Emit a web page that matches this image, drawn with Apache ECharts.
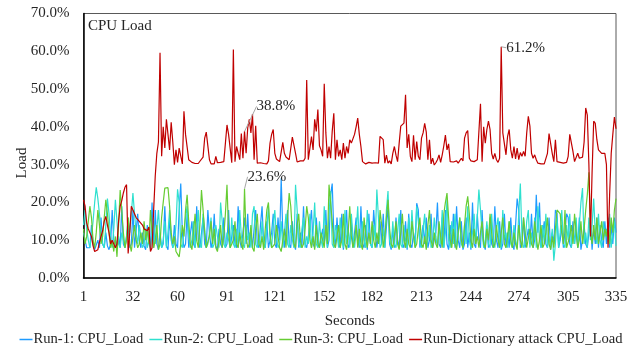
<!DOCTYPE html>
<html>
<head>
<meta charset="utf-8">
<script src="https://cdn.jsdelivr.net/npm/echarts@6/dist/echarts.min.js"></script>
<style>
  html, body { margin: 0; padding: 0; background: #ffffff; }
  #chart { width: 642px; height: 354px; }
</style>
</head>
<body>
<div id="chart"></div>
<script>
// Sampling seconds 1..335 and the ticks shown on the time axis
const tickLabels = [1, 32, 60, 91, 121, 152, 182, 213, 244, 274, 305, 335];
const seconds = Array.from({ length: 335 }, (_, i) => String(i + 1));

// CPU load (%) per second for each run
const run1 = [
  12, 10, 8, 7.5, 8, 14, 9, 7.5, 8, 10,
  8, 16, 9, 8, 12, 8.5, 7.5, 9, 18, 10,
  8, 7.5, 11, 8, 19, 9, 8, 7.5, 14, 8,
  9, 18, 8, 7.5, 17, 10, 8, 12, 8.5, 7.5,
  14, 9, 8, 20, 8, 18, 9, 7.5, 12, 8,
  9, 19, 8.5, 7.5, 16, 10, 8, 14, 9, 8,
  18, 25, 12, 8, 9, 17, 8, 7.5, 15, 9,
  8, 19, 10, 8, 7.5, 16, 9, 8, 18, 12,
  8, 10, 17, 8.5, 7.5, 13, 9, 8, 16, 8,
  9, 18, 8, 7.5, 14, 9, 8, 19, 10, 8,
  7.5, 16, 9, 17, 8, 12, 8, 7.5, 18, 9,
  8, 14, 19, 9, 8, 15, 8, 7.5, 12, 17,
  9, 8, 16, 10, 26.4, 12, 8, 7.5, 18, 9,
  8, 15, 9, 7.5, 17, 8, 12, 8, 19, 9,
  8, 7.5, 14, 18, 9, 8, 16, 10, 8, 7.5,
  13, 9, 18, 8, 10, 22, 25, 12, 8, 16,
  9, 8, 17, 7.5, 11, 18, 8, 9, 15, 8,
  7.5, 16, 10, 8, 19, 9, 8, 14, 7.5, 17,
  9, 8, 18, 12, 8, 7.5, 15, 9, 17, 8,
  8, 19, 9, 7.5, 13, 8, 16, 10, 8, 18,
  9, 8, 15, 7.5, 17, 9, 8, 12, 9, 19.8,
  18, 8, 7.5, 14, 9, 16, 8, 10, 17, 8,
  7.5, 12, 20, 9, 8, 16, 8, 18, 9, 7.5,
  14, 9, 17, 8, 19, 10, 8, 15, 7.5, 9,
  16, 8, 12, 7.5, 20, 9, 8, 17, 10, 8,
  18, 9, 7.5, 14, 8, 16, 9, 8, 19, 10,
  8, 15, 7.5, 9, 17, 8, 12, 8, 16, 9,
  7.5, 14, 21, 18, 8, 9, 16, 8, 7.5, 13,
  9, 17, 8, 10, 22, 12, 20, 8, 7.5, 15,
  9, 8, 16, 7.5, 12, 9, 18, 17, 8, 10,
  14, 8, 7.5, 17, 16, 9, 8, 15, 9, 13,
  8, 16, 7.5, 10, 14, 9, 8, 12, 15, 7.5,
  13, 9, 16, 8, 14, 10, 8, 15, 9, 16,
  8, 14, 9, 16, 12
];

const run2 = [
  14, 18, 13, 10, 8, 11, 15, 20, 24, 21,
  17, 12, 9, 8, 14, 21, 17, 11, 8, 13,
  20.7, 15, 9, 8, 12, 10, 8, 11, 16, 12,
  17, 22.5, 17, 12, 9, 14, 11, 8, 9, 13,
  8, 10, 7.5, 12, 15, 9, 13, 18, 11, 8,
  10, 15, 8, 12, 18, 11, 8, 9, 14, 23.5,
  20, 9, 8, 12, 16, 19, 11, 8, 10, 15,
  8, 12, 18, 9, 8, 17, 13, 8, 9, 12,
  16, 8, 9, 14, 11, 8, 20, 15, 9, 8,
  12, 10, 8, 16, 9, 8, 13, 8, 18, 11,
  9, 8, 14, 10, 12, 8, 17, 19, 9, 8,
  11, 8, 15, 9, 8, 13, 19, 10, 8, 14,
  18, 11, 8, 9, 15, 8, 12, 17, 9, 8,
  14, 10, 8, 24.7, 18, 9, 8, 13, 16, 8,
  11, 9, 17, 8, 12, 20, 9, 8, 15, 10,
  8, 19, 11, 8, 17, 23, 9, 8, 14, 12,
  8, 16, 10, 8, 18, 9, 13, 8, 17, 11,
  8, 12, 19, 9, 8, 15, 10, 8, 18, 12,
  9, 8, 14, 10, 23.4, 16, 8, 9, 13, 8,
  18, 23, 10, 8, 15, 9, 8, 12, 17, 9,
  8, 14, 10, 8, 16, 9, 18, 11, 8, 19,
  15, 9, 8, 13, 17, 8, 10, 14, 8, 9,
  16, 11, 8, 14, 9, 18, 8, 12, 21, 10,
  8, 15, 9, 17, 8, 11, 16, 9, 8, 14,
  9, 19, 10, 8, 12, 17, 9, 16, 23.4, 18,
  12, 8, 10, 15, 9, 8, 17, 10, 8, 13,
  16, 9, 8, 18, 10, 12, 8, 15, 9, 8,
  14, 10, 8, 17, 25, 11, 8, 9, 15, 18,
  8, 12, 9, 16, 8, 19, 10, 8, 14, 9,
  17, 8, 11, 8, 13, 4.6, 9, 16, 8, 12,
  18, 9, 8, 14, 10, 17, 8, 12, 9, 16,
  8, 14, 20, 23.8, 9, 12, 8, 16, 10, 14,
  21, 12, 9, 17, 10, 8, 15, 11, 13, 9,
  17, 8, 12, 15, 8.5
];

const run3 = [
  13, 9, 11, 15, 19, 16, 10, 8, 12, 18,
  14, 9, 11, 16, 20.7, 17, 12, 8, 10, 7,
  11, 5.6, 14, 23.3, 18, 12, 8, 10, 16, 9,
  7, 11, 14, 10, 8, 9, 12, 9, 15, 10,
  13, 9, 18, 12, 8, 10, 14, 7.5, 9, 16,
  20, 23.8, 23.5, 23.9, 19, 12, 9, 11, 7, 6.5,
  5.6, 9, 14, 11, 18, 22, 15, 9, 7.5, 12,
  17, 10, 8, 14, 23.3, 18, 12, 8, 7.5, 11,
  15, 9, 13, 8, 7, 10, 14, 8, 11, 17,
  24.7, 12, 8, 7.5, 10, 15, 9, 8, 12, 9,
  7.5, 23.6, 11, 8, 9, 14, 8, 7, 13, 17,
  9, 8, 11, 7.5, 13, 18, 20, 12, 8, 7.5,
  9, 14, 11, 8, 7, 10, 13, 8, 16, 22.5,
  19, 12, 9, 8, 14, 17, 10, 8, 9, 13,
  19, 16, 10, 8, 11, 7.5, 14, 9, 8, 12,
  10, 8, 14, 9, 24.7, 24.9, 15, 9, 8, 11,
  14, 8, 10, 17, 9, 7.5, 12, 19, 11, 8,
  10, 14, 8, 13, 9, 7.5, 16, 11, 8, 12,
  9, 15, 10, 8, 12, 9, 18, 14, 8, 11,
  16, 20.7, 13, 9, 8, 11, 15, 9, 7.5, 12,
  17, 10, 8, 13, 9, 8, 15, 11, 8, 9,
  13, 16, 9, 8, 11, 7.5, 14, 18, 10, 8,
  12, 9, 8, 15, 11, 8, 17, 20, 22.5, 16,
  10, 8, 13, 9, 7.5, 12, 16, 10, 8, 14,
  19, 21.6, 17, 10, 8, 13, 9, 11, 8, 12,
  15, 9, 8, 13, 10, 17, 12, 8, 9, 14,
  10, 8, 12, 16, 9, 8, 11, 15, 10, 8,
  12, 9, 7.5, 14, 10, 8, 16, 12, 8, 7.5,
  13, 9, 8, 15, 11, 7.5, 10, 14, 8, 9,
  12, 16, 9, 7.5, 11, 8, 13, 18, 18, 17,
  12, 9, 18, 8, 7.5, 11, 14, 9, 17, 12,
  8, 10, 15, 9, 13, 18, 22, 28, 12, 9,
  14, 10, 16, 9, 12, 15, 10, 13, 11, 14,
  9, 16, 12, 18, 21
];

const attack = [
  20.7, 19, 14.5, 13, 12.5, 11, 8.5, 7, 6.5, 7.5,
  9.5, 11, 12.5, 15, 16.3, 14, 12, 9, 10, 9,
  8, 9, 15, 19, 20.5, 22.5, 24, 24.7, 6.5, 12,
  19, 18, 17, 16, 16, 15, 14.7, 14, 13, 12.5,
  12.5, 13.5, 7, 8, 18, 27, 33, 36, 59.6, 32.2,
  40, 34.4, 42, 42.2, 33.9, 41.2, 36, 30, 33.9, 30.6,
  34.4, 34.4, 30.2, 44.1, 38, 37.8, 31.3, 30.8, 30.6, 30.4,
  30.3, 30.8, 30.3, 30.9, 30.6, 32, 37, 38.6, 38.4, 31.3,
  30.2, 30.4, 30.2, 32.2, 30.5, 31, 30.6, 30.4, 30.8, 30.5,
  40.5, 38, 37.5, 30.5, 60.5, 30.8, 34.8, 35, 31.3, 38.2,
  31.7, 38.8, 33, 39.7, 42, 38.4, 43.4, 31.3, 40.3, 30.4,
  30.2, 30.5, 30.1, 30.3, 29.8, 30.2, 31, 35.7, 38, 39.3,
  33, 31.5, 31.3, 30.8, 30.5, 35.9, 33, 32, 31.8, 31.3,
  30.8, 37.3, 37.6, 33, 30.7, 30.7, 31, 31.3, 31, 31.7,
  52.4, 31.3, 31.7, 37.4, 33.9, 42, 38.8, 44.6, 35, 33.9,
  32.2, 51.4, 38.4, 31.7, 34.8, 31.7, 38.8, 43.6, 31.3, 36.6,
  32.2, 33.9, 31.3, 35.7, 31.7, 34.8, 33, 36.6, 35.7, 35.7,
  38, 40, 42.3, 38, 34.8, 30.8, 30.4, 30.2, 30.3, 30.6,
  30.1, 30.4, 30.2, 30.5, 30.3, 30.4, 37.5, 37.6, 36.6, 30.4,
  32.5, 30.4, 31, 30.2, 33, 34.8, 32.5, 30.8, 35.7, 40.2,
  40.2, 41, 48.5, 34.4, 38, 32.2, 30.8, 37.8, 31.3, 36.1,
  32.2, 31.3, 37, 38.4, 40.9, 38.6, 31.3, 36.6, 30.2, 31.7,
  29.9, 30.5, 31.3, 32.6, 30.6, 32.6, 35, 37.8, 33.9, 35.5,
  30.8, 30.4, 30.7, 30.3, 31, 30.4, 30.6, 31.7, 31, 37,
  38.4, 39, 31.7, 31, 30.8, 30.8, 30.7, 31.3, 31.5, 46.1,
  30.8, 40, 35.7, 39.3, 41.5, 39.3, 33, 31.5, 33, 31.3,
  30.6, 31.7, 61.2, 38.4, 38.8, 32.6, 37.5, 39.3, 33.9, 31.7,
  34.8, 31.5, 34.4, 31.3, 33.2, 32.2, 33.5, 32.2, 38.4, 42.8,
  40.2, 33, 31.7, 32.6, 31.3, 30.4, 30.2, 30.2, 30.3, 30.2,
  30.4, 33, 38.2, 38, 33, 30.8, 36.6, 30.8, 31.3, 30.6,
  31.1, 30.4, 30.8, 30.6, 32.2, 38, 38.2, 33.5, 30.8, 30.6,
  33, 31.7, 32, 32, 36, 45, 43.1, 30, 11, 28,
  41.5, 40.9, 36.6, 33.9, 33.5, 33, 33, 33, 30, 8,
  22, 33, 38, 42.6, 39.5
];

// Seconds whose values are written on the chart
const attackCallouts = [102, 263];
const run3Callouts = [102];

const FONT = "'Liberation Serif', 'Times New Roman', Times, serif";
const pct = v => v.toFixed(1) + '%';

// Only the called-out seconds get a (tiny, invisible) symbol so their labels render
function withCallouts(values, marked) {
  return values.map((v, i) => marked.includes(i + 1)
    ? { value: v, symbol: 'circle', symbolSize: 0.1, label: { show: true } }
    : { value: v, symbol: 'none' });
}

const calloutText = {
  fontFamily: FONT, fontSize: 15, color: '#262626',
  formatter: p => pct(p.value)
};

const chart = echarts.init(document.getElementById('chart'), null, { renderer: 'canvas' });

chart.setOption({
  animation: false,
  backgroundColor: '#ffffff',
  textStyle: { fontFamily: FONT },
  title: {
    text: 'CPU Load',
    left: 88, top: 19, padding: 0,
    textStyle: { fontFamily: FONT, fontSize: 15, fontWeight: 'normal', color: '#262626' }
  },
  // Vertical axis title, set a little below the plot's middle
  graphic: [{
    type: 'text',
    x: 22, y: 163,
    rotation: Math.PI / 2,
    style: {
      text: 'Load', fill: '#262626',
      font: "15px 'Liberation Serif', 'Times New Roman', serif",
      align: 'center', verticalAlign: 'middle'
    }
  }],
  grid: {
    left: 83.5, right: 26, top: 13.5, bottom: 76,
    show: true, borderColor: '#595959', borderWidth: 1,
    containLabel: false
  },
  legend: {
    bottom: 2, left: 'center',
    itemWidth: 13, itemHeight: 1.5, itemGap: 6,
    icon: 'rect',
    textStyle: { fontFamily: FONT, fontSize: 14.6, color: '#262626', padding: [0, 0, 0, -4] },
    data: ['Run-1: CPU_Load', 'Run-2: CPU_Load', 'Run-3: CPU_Load', 'Run-Dictionary attack CPU_Load']
  },
  xAxis: {
    type: 'category',
    data: seconds,
    boundaryGap: false,
    name: 'Seconds',
    nameLocation: 'middle',
    nameGap: 36,
    nameTextStyle: { fontFamily: FONT, fontSize: 15, color: '#262626' },
    axisLine: { lineStyle: { color: '#000000', width: 1.5 } },
    axisTick: { show: false },
    axisLabel: {
      interval: (idx, val) => tickLabels.includes(Number(val)),
      margin: 12,
      fontFamily: FONT, fontSize: 15, color: '#262626'
    },
    splitLine: { show: false }
  },
  yAxis: {
    type: 'value',
    min: 0, max: 70, interval: 10,
    axisLine: { show: true, lineStyle: { color: '#000000', width: 1.5 } },
    axisTick: { show: false },
    axisLabel: {
      formatter: v => v.toFixed(1) + '%',
      margin: 14,
      fontFamily: FONT, fontSize: 15, color: '#262626'
    },
    splitLine: { show: false }
  },
  series: [
    {
      name: 'Run-1: CPU_Load', type: 'line', data: run1,
      showSymbol: false, symbol: 'none',
      lineStyle: { color: '#1e9bff', width: 1.2 },
      itemStyle: { color: '#1e9bff' }
    },
    {
      name: 'Run-2: CPU_Load', type: 'line', data: run2,
      showSymbol: false, symbol: 'none',
      lineStyle: { color: '#2ee0cf', width: 1.2 },
      itemStyle: { color: '#2ee0cf' }
    },
    {
      name: 'Run-3: CPU_Load', type: 'line', data: withCallouts(run3, run3Callouts),
      showSymbol: true, showAllSymbol: true,
      lineStyle: { color: '#66cc33', width: 1.2 },
      itemStyle: { color: '#66cc33' },
      label: Object.assign({ show: false, position: 'right', distance: 4 }, calloutText),
      labelLine: { show: true, lineStyle: { color: '#a6a6a6', width: 1 } },
      labelLayout: () => ({ dx: -1, dy: -12 })
    },
    {
      name: 'Run-Dictionary attack CPU_Load', type: 'line', data: withCallouts(attack, attackCallouts),
      showSymbol: true, showAllSymbol: true,
      lineStyle: { color: '#c00000', width: 1.2 },
      itemStyle: { color: '#c00000' },
      label: Object.assign({ show: false, position: 'right', distance: 4 }, calloutText),
      labelLine: { show: true, lineStyle: { color: '#a6a6a6', width: 1 } },
      labelLayout: p => (p.dataIndex === 101 ? { dx: 8, dy: -25 } : { dx: 1, dy: 1 })
    }
  ]
});
</script>
</body>
</html>
